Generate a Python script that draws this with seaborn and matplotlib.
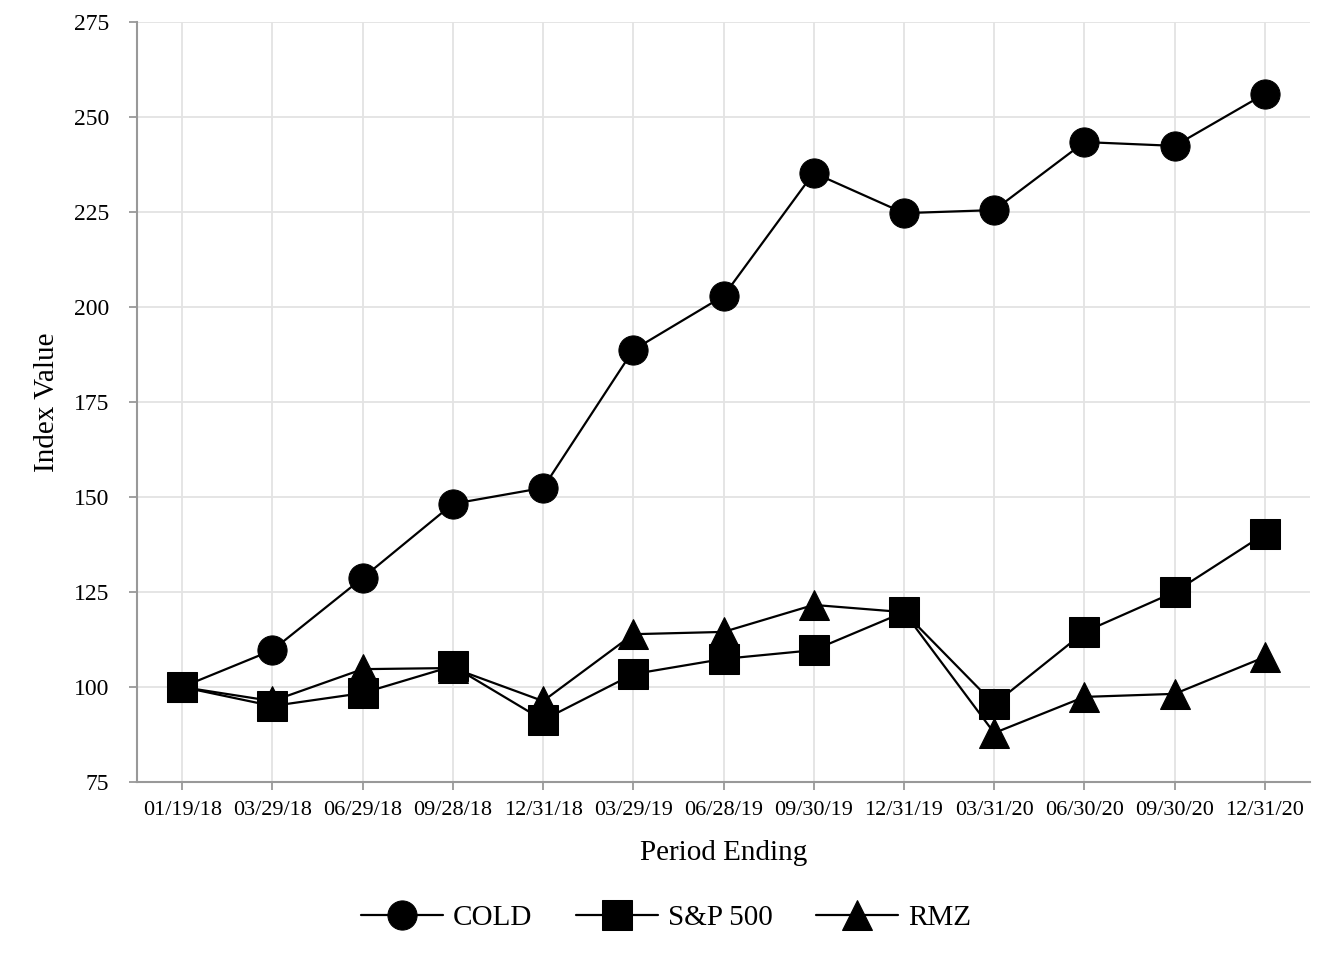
import pandas as pd
import numpy as np
import matplotlib
matplotlib.use('Agg')
import matplotlib.pyplot as plt
import seaborn as sns

periods = ['01/19/18', '03/29/18', '06/29/18', '09/28/18', '12/31/18', '03/29/19',
           '06/28/19', '09/30/19', '12/31/19', '03/31/20', '06/30/20', '09/30/20', '12/31/20']
cold = [100.0, 109.7, 128.7, 148.2, 152.4, 188.7, 202.9, 235.3, 224.7, 225.5, 243.4, 242.4, 256.1]
sp500 = [100.0, 95.0, 98.4, 105.5, 91.3, 103.4, 107.4, 109.7, 119.7, 95.5, 114.5, 125.0, 140.3]
rmz = [100.0, 96.3, 104.7, 105.0, 96.3, 113.9, 114.5, 121.6, 119.7, 87.9, 97.4, 98.2, 107.9]
series_names = ['COLD', 'S&P 500', 'RMZ']
y_ticks = [75, 100, 125, 150, 175, 200, 225, 250, 275]

sns.set_theme(style='whitegrid')
plt.rcParams['font.family'] = ['Liberation Serif', 'DejaVu Serif']
plt.rcParams['text.color'] = 'black'
plt.rcParams['axes.labelcolor'] = 'black'


def build_frame():
    rows = []
    for name, vals in zip(series_names, [cold, sp500, rmz]):
        for p, v in zip(periods, vals):
            rows.append({'Period': p, 'Value': v, 'Series': name})
    return pd.DataFrame(rows)


df = build_frame()

fig = plt.figure(figsize=(13.32, 9.6), dpi=100)
ax = fig.add_axes([0.1029, 0.1854, 0.8806, 0.7917])

sns.lineplot(data=df, x='Period', y='Value', style='Series', hue='Series',
             palette={n: 'black' for n in series_names},
             markers={'COLD': 'o', 'S&P 500': 's', 'RMZ': '^'},
             dashes=False, markersize=21, linewidth=1.6, sort=False,
             markeredgecolor='black', ax=ax)

ax.set_xlim(-0.5, len(periods) - 0.5)
ax.set_ylim(75, 275)
ax.set_yticks(y_ticks)
ax.grid(True, color='#e3e3e3', linewidth=1.3)
ax.set_axisbelow(True)

for s in ['top', 'right']:
    ax.spines[s].set_visible(False)
for s in ['left', 'bottom']:
    ax.spines[s].set_visible(True)
    ax.spines[s].set_color('#999999')
    ax.spines[s].set_linewidth(1.5)

ax.tick_params(axis='both', which='both', direction='out', length=6, width=1.3,
               color='#999999', labelcolor='black')
ax.tick_params(axis='x', labelsize=16, pad=8, bottom=True)
ax.tick_params(axis='y', labelsize=17, pad=14, left=True)

ax.set_xlabel('Period Ending', fontsize=21, labelpad=14)
ax.set_ylabel('Index Value', fontsize=21, labelpad=10)

handles, labels = ax.get_legend_handles_labels()
ax.get_legend().remove()
fig.legend(handles, labels, loc='center', bbox_to_anchor=(0.5, 0.044), ncol=3,
           frameon=False, fontsize=21, handlelength=2.8, handletextpad=0.35,
           columnspacing=1.5, markerscale=1.0)

fig.savefig('out.png', dpi=100)
